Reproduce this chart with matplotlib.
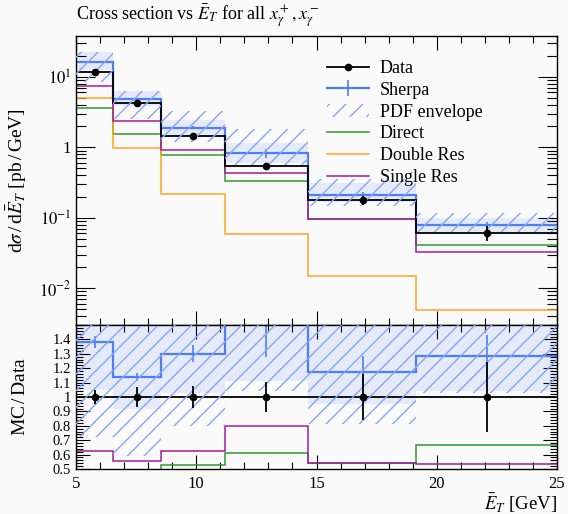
import numpy as np
import matplotlib
matplotlib.use("Agg")
import matplotlib.pyplot as plt
from matplotlib.ticker import MultipleLocator, FixedLocator, FuncFormatter, LogLocator, NullFormatter
from matplotlib.patches import Patch
from matplotlib.lines import Line2D

plt.rcParams['font.family'] = ['Liberation Serif', 'DejaVu Serif']
plt.rcParams['mathtext.fontset'] = 'stix'
plt.rcParams['hatch.linewidth'] = 1.0

# bin edges in E_T bar [GeV]
edges = [5.0, 6.55, 8.55, 11.2, 14.65, 19.15, 25.0]
data_x = [5.77, 7.54, 9.87, 12.9, 16.92, 22.1]

# d sigma / d E_T  [pb/GeV]
data = [11.8, 4.24, 1.46, 0.547, 0.178, 0.0607]
data_err = [0.61, 0.28, 0.114, 0.057, 0.028, 0.0146]
sherpa = [16.3, 4.83, 1.90, 0.83, 0.209, 0.078]
sherpa_err = [0.47, 0.13, 0.09, 0.13, 0.02, 0.009]
direct = [3.6, 1.55, 0.77, 0.334, 0.097, 0.0406]
double_res = [5.09, 0.97, 0.218, 0.0596, 0.0147, 0.00497]
single_res = [7.4, 2.35, 0.915, 0.435, 0.096, 0.0326]

# PDF envelope (hatched) and sherpa band (light fill)
pdf_lo = [8.5, 2.5, 1.17, 0.569, 0.145, 0.0625]
pdf_hi = [22.3, 6.34, 3.29, 1.80, 0.35, 0.117]
band_lo = [12.4, 3.88, 1.50, 0.607, 0.169, 0.0634]
band_hi = [22.3, 6.34, 2.45, 1.14, 0.307, 0.0975]

edges = np.array(edges)
widths = np.diff(edges)
data = np.array(data)

c_sherpa = '#4d7ef2'
c_hatch = '#86a6f5'
c_fill = '#e5eafb'
c_direct = '#2e9a2e'
c_double = '#ffa421'
c_single = '#a01ca0'
bg = '#fafafa'

fig = plt.figure(figsize=(5.68, 5.14), dpi=100, facecolor=bg)
ax = fig.add_axes([76/568, 1-325/514, 481/568, 289/514], facecolor=bg)
rax = fig.add_axes([76/568, 1-469/514, 481/568, 144/514], facecolor=bg, sharex=ax)


def draw_panel(a, norm):
    lo = np.array(band_lo) / norm
    hi = np.array(band_hi) / norm
    a.bar(edges[:-1], hi - lo, width=widths, bottom=lo, align='edge',
          color=c_fill, linewidth=0, zorder=1)
    lo = np.array(pdf_lo) / norm
    hi = np.array(pdf_hi) / norm
    a.bar(edges[:-1], hi - lo, width=widths, bottom=lo, align='edge',
          facecolor='none', edgecolor=c_hatch, hatch='//', linewidth=0, zorder=3)
    for vals, col in [(direct, c_direct), (double_res, c_double), (single_res, c_single)]:
        a.stairs(np.array(vals) / norm, edges, color=col, lw=1.1, baseline=None, zorder=2)
    a.stairs(np.array(sherpa) / norm, edges, color=c_sherpa, lw=1.6, baseline=None, zorder=2.5)
    a.errorbar(data_x, np.array(sherpa) / norm, yerr=np.array(sherpa_err) / norm,
               fmt='none', ecolor=c_sherpa, elinewidth=1.2, zorder=2.5)
    a.stairs(data / norm, edges, color='black', lw=1.3, baseline=None, zorder=2.6)
    a.errorbar(data_x, data / norm, yerr=np.array(data_err) / norm, fmt='o',
               color='black', ms=4.5, elinewidth=1.3, zorder=4)


draw_panel(ax, 1.0)
draw_panel(rax, data)

ax.set_yscale('log')
ax.set_ylim(0.003, 38)
ax.set_xlim(5, 25)


def logfmt(v, pos):
    e = int(round(np.log10(v)))
    if e == 0:
        return '1'
    return r'$10^{%d}$' % e


ax.yaxis.set_major_formatter(FuncFormatter(logfmt))
ax.yaxis.set_minor_locator(LogLocator(base=10, subs=np.arange(2, 10)))
ax.yaxis.set_minor_formatter(NullFormatter())
ax.tick_params(axis='x', labelbottom=False)

rax.set_ylim(0.5, 1.5)
rax.yaxis.set_major_locator(FixedLocator(np.round(np.arange(0.5, 1.45, 0.1), 1)))
rax.yaxis.set_major_formatter(FuncFormatter(lambda v, p: '%g' % round(v, 1)))
rax.yaxis.set_minor_locator(MultipleLocator(0.02))
rax.xaxis.set_major_locator(MultipleLocator(5))
rax.xaxis.set_minor_locator(MultipleLocator(1))

for a in (ax, rax):
    a.tick_params(which='both', direction='in', top=True, right=True, labelsize=12, width=0.8)
    a.tick_params(which='major', length=10)
    a.tick_params(which='minor', length=5)
    for s in a.spines.values():
        s.set_linewidth(1.0)
ax.tick_params(axis='y', which='major', length=14)
ax.tick_params(axis='y', which='minor', length=7)
rax.tick_params(axis='y', labelsize=10.5)
rax.tick_params(axis='x', pad=5)

ax.set_ylabel(r'd$\sigma\,$/$\,$d$\bar{E}_T$ [pb$\,$/$\,$GeV]', fontsize=14)
rax.set_ylabel(r'MC$\,$/$\,$Data', fontsize=14)
ax.yaxis.set_label_coords(-0.098, 0.5)
rax.yaxis.set_label_coords(-0.098, 0.5)
rax.set_xlabel(r'$\bar{E}_T$ [GeV]', fontsize=13.5, loc='right', labelpad=0)

fig.text(76/568, 1-16/514, r'Cross section vs $\bar{E}_T$ for all $x_\gamma^+, x_\gamma^-$',
         fontsize=13, va='center', ha='left')

handles = [
    Line2D([0], [0], color='black', lw=1.3, marker='o', ms=4.5),
    Line2D([0], [0], color=c_sherpa, lw=1.6, marker='|', ms=12, mew=1.2),
    Patch(facecolor='none', edgecolor=c_hatch, hatch='//', linewidth=0),
    Line2D([0], [0], color=c_direct, lw=1.1),
    Line2D([0], [0], color=c_double, lw=1.1),
    Line2D([0], [0], color=c_single, lw=1.1),
]
labels = ['Data', 'Sherpa', 'PDF envelope', 'Direct', 'Double Res', 'Single Res']
ax.legend(handles, labels, loc='upper left', bbox_to_anchor=(0.5, 0.955), frameon=False,
          fontsize=13, handlelength=2.3, handletextpad=0.6, labelspacing=0.27,
          borderaxespad=0.2)

fig.savefig('out.png', dpi=100, facecolor=bg)
